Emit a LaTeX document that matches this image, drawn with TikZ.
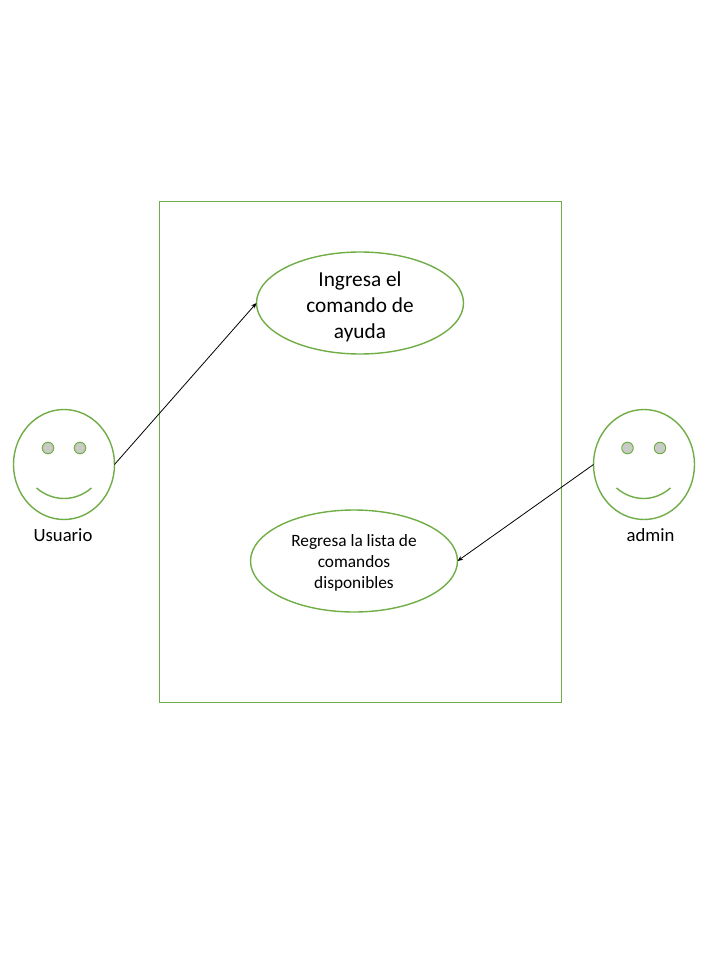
\documentclass[tikz,border=0pt]{standalone}
\usepackage{fontspec}
\setmainfont{Carlito}
\usetikzlibrary{shapes.geometric,arrows.meta}
\definecolor{grn}{HTML}{70AD47}
\definecolor{eyegray}{HTML}{C9CCC6}
\tikzset{
  x=1pt,y=-1pt,
  oval/.style={draw=grn,line width=1.4pt,ellipse,inner sep=0pt,outer sep=0pt,minimum width=#1},
  usecase/.style={oval=207pt,minimum height=102pt},
  usetext/.style={text=black,align=center,inner sep=0pt},
  face/.style={oval=101pt,minimum height=110pt},
  eye/.style={draw=grn,line width=1pt,fill=eyegray,circle,inner sep=0pt,minimum size=11.5pt},
  smile/.style={draw=grn,line width=1.4pt},
  frame/.style={draw=grn,line width=1.4pt,inner sep=0pt,outer sep=0pt,minimum width=402pt,minimum height=501pt},
  link/.style={draw=black,line width=0.8pt,-{Stealth[length=5.5pt,width=4.5pt]}},
  caption/.style={text=black,font=\fontsize{18.7pt}{22pt}\selectfont,inner sep=0pt}
}
\begin{document}
\begin{tikzpicture}
\useasboundingbox (0,0) rectangle (720,960);
\node[frame] (box) at (360.5,452) {};
\node[usecase,label={[usetext,yshift=-4pt,font=\fontsize{21.3pt}{26pt}\selectfont]center:Ingresa el\\comando de\\ayuda}] (ayuda) at (360,303) {};
\node[usecase,label={[usetext,yshift=-2pt,font=\fontsize{17.3pt}{21pt}\selectfont]center:Regresa la lista de\\comandos\\disponibles}] (lista) at (354,561) {};
\node[face] (usuario) at (64,464.5) {};
\node[eye] (ul) at (48,448) {};
\node[eye] (ur) at (80,448) {};
\draw[smile] (36.5,488) .. controls (53,502) and (75,502) .. (91.5,488);
\node[caption] (ulabel) at (63,535.5) {Usuario};
\node[face] (admin) at (644,464.5) {};
\node[eye] (al) at (627.5,448) {};
\node[eye] (ar) at (660,448) {};
\draw[smile] (616.5,488) .. controls (633,502) and (654,502) .. (670.5,488);
\node[caption] (alabel) at (650.5,535.5) {admin};
\draw[link] (usuario.east) -- (ayuda.west);
\draw[link] (admin.west) -- (lista.east);
\end{tikzpicture}
\end{document}
